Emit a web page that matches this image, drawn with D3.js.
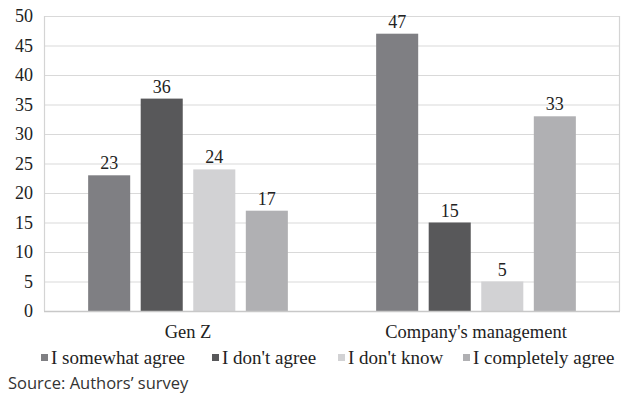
<!DOCTYPE html>
<html>
<head>
<meta charset="utf-8">
<script src="https://cdn.jsdelivr.net/npm/d3@7"></script>
<style>
  html, body { margin: 0; padding: 0; background: #fff; }
  svg { display: block; }
</style>
</head>
<body>
<svg id="chart" width="630" height="402"></svg>
<script>
// Survey answers by respondent group
const groups = ["Gen Z", "Company's management"];
const answers = ["I somewhat agree", "I don't agree", "I don't know", "I completely agree"];
const genZ = [23, 36, 24, 17];
const management = [47, 15, 5, 33];
const yTicks = [0, 5, 10, 15, 20, 25, 30, 35, 40, 45, 50];
const colors = ["#7f7f83", "#58585a", "#d2d2d4", "#b0b0b3"];
const sourceNote = "Source: Authors\u2019 survey";

const seriesByGroup = [genZ, management];

const svg = d3.select("#chart");
const plot = { left: 44, right: 620, top: 16, bottom: 311 };
const serif = "'Liberation Serif', 'DejaVu Serif', serif";

const x0 = d3.scaleBand().domain(groups).range([plot.left, plot.right]).padding(0);
const x1 = d3.scaleBand().domain(answers).range([0, x0.bandwidth()])
  .paddingInner(0.2).paddingOuter(0.84);
const y = d3.scaleLinear().domain([0, 50]).range([plot.bottom, plot.top]);
const color = d3.scaleOrdinal().domain(answers).range(colors);

// horizontal gridlines
svg.append("g").selectAll("line").data(yTicks.filter(d => d > 0)).join("line")
  .attr("x1", plot.left).attr("x2", plot.right)
  .attr("y1", d => y(d) + 0.5).attr("y2", d => y(d) + 0.5)
  .attr("stroke", "#d9d9d9").attr("stroke-width", 1.2);

// side borders of the plot area
svg.append("line").attr("x1", plot.left + 0.5).attr("x2", plot.left + 0.5)
  .attr("y1", plot.top).attr("y2", plot.bottom).attr("stroke", "#d4d4d4").attr("stroke-width", 1.2);
svg.append("line").attr("x1", plot.right - 0.5).attr("x2", plot.right - 0.5)
  .attr("y1", plot.top).attr("y2", plot.bottom).attr("stroke", "#d4d4d4").attr("stroke-width", 1.2);

// y axis labels
const yAxis = d3.axisLeft(y).tickValues(yTicks).tickSize(0).tickPadding(11);
const ya = svg.append("g").attr("transform", `translate(${plot.left},0)`).call(yAxis)
  .attr("font-family", serif).attr("font-size", 18);
ya.select(".domain").remove();
ya.selectAll("text").style("font-family", serif).style("font-size", "18px").attr("fill", "#222");

// bars
const gGroups = svg.append("g").selectAll("g").data(groups).join("g")
  .attr("transform", d => `translate(${x0(d)},0)`);

const rows = (g, gi) => answers.map((a, i) => ({ a, v: seriesByGroup[gi][i] }));

gGroups.selectAll("rect").data(rows).join("rect")
  .attr("x", d => x1(d.a))
  .attr("width", x1.bandwidth())
  .attr("y", d => y(d.v))
  .attr("height", d => y(0) - y(d.v))
  .attr("fill", d => color(d.a));

gGroups.selectAll("text.val").data(rows).join("text").attr("class", "val")
  .attr("x", d => x1(d.a) + x1.bandwidth() / 2)
  .attr("y", d => y(d.v) - 6)
  .attr("text-anchor", "middle")
  .attr("font-family", serif).attr("font-size", 18).attr("fill", "#222")
  .text(d => d.v);

// baseline
svg.append("line").attr("x1", plot.left).attr("x2", plot.right)
  .attr("y1", plot.bottom + 0.5).attr("y2", plot.bottom + 0.5)
  .attr("stroke", "#c8c8c8").attr("stroke-width", 1.3);

// category labels
const xAxis = d3.axisBottom(x0).tickSize(0).tickPadding(14);
const xa = svg.append("g").attr("transform", `translate(0,${plot.bottom})`).call(xAxis)
  .attr("font-family", serif).attr("font-size", 18.5);
xa.select(".domain").remove();
xa.selectAll("text").attr("fill", "#222");

// legend
const legendX = [41, 212, 338, 463];
const leg = svg.append("g").selectAll("g").data(answers).join("g")
  .attr("transform", (d, i) => `translate(${legendX[i]},354)`);
leg.append("rect").attr("width", 7).attr("height", 7).attr("fill", d => color(d));
leg.append("text").attr("x", 10).attr("y", 10)
  .attr("font-family", serif).attr("font-size", 19).attr("fill", "#222")
  .text(d => d);

// source note
svg.append("text").attr("x", 8).attr("y", 389)
  .attr("font-family", "'Open Sans', 'Noto Sans', sans-serif").attr("font-size", 16.5)
  .attr("fill", "#333").text(sourceNote);
</script>
</body>
</html>
